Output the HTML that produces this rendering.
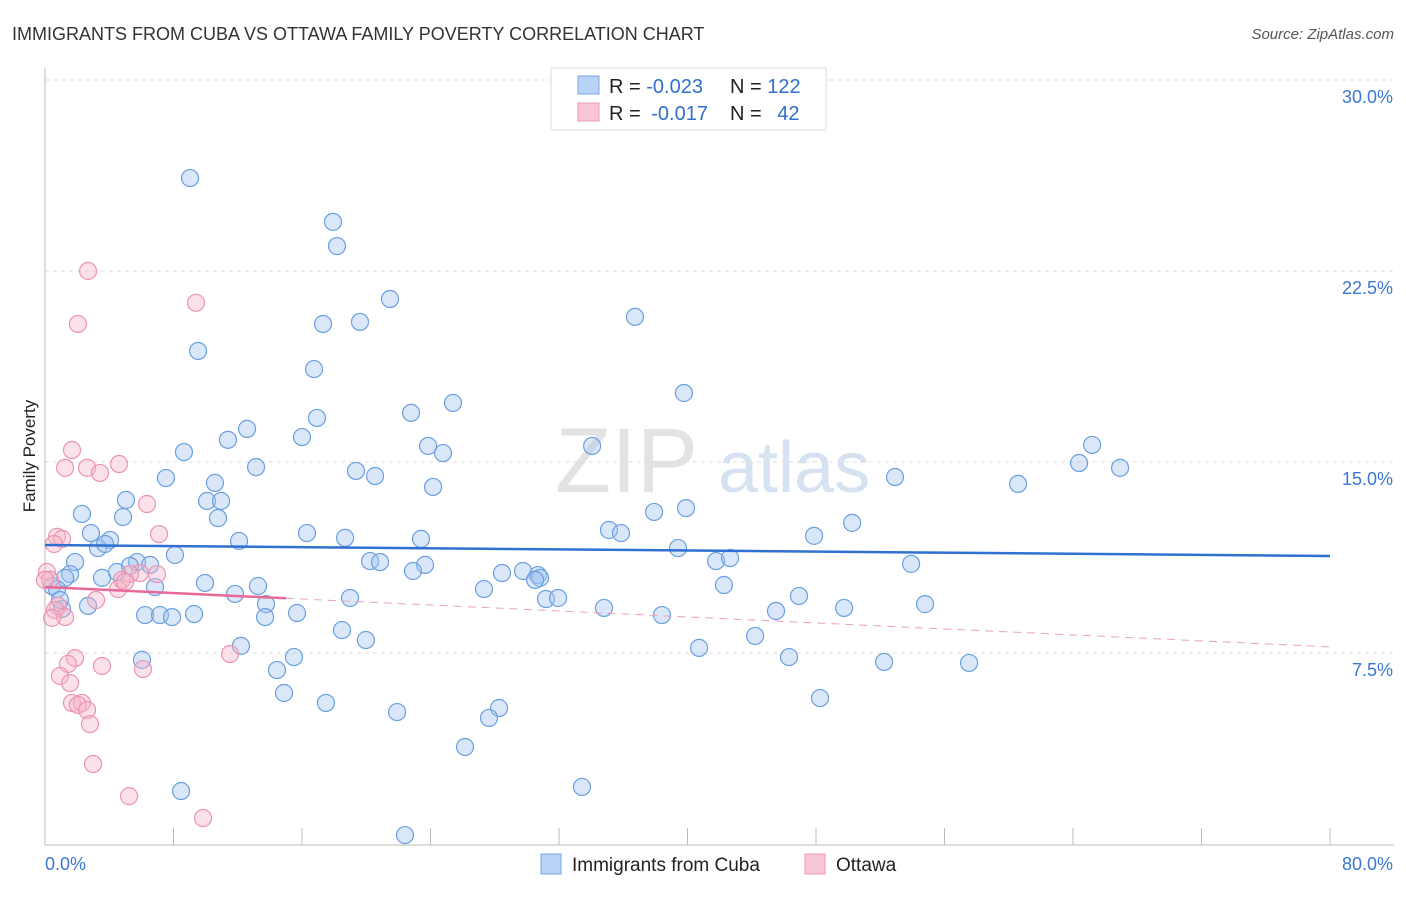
<!DOCTYPE html>
<html><head><meta charset="utf-8"><style>
body{margin:0;background:#fff;font-family:"Liberation Sans",sans-serif;}
svg text{font-family:"Liberation Sans",sans-serif;}
</style></head><body>
<svg id="chart" width="1406" height="892" xmlns="http://www.w3.org/2000/svg">
<text x="12" y="40" font-size="18" fill="#333">IMMIGRANTS FROM CUBA VS OTTAWA FAMILY POVERTY CORRELATION CHART</text>
<text x="1394" y="39" font-size="15" fill="#555" text-anchor="end" font-style="italic">Source: ZipAtlas.com</text>
<text x="35" y="456" font-size="17" fill="#222" text-anchor="middle" transform="rotate(-90 35 456)">Family Poverty</text>
<g><text x="555" y="492" font-size="92" fill="#d8d8d8" font-family="Liberation Serif" opacity="0.7">ZIP</text><text x="718" y="492" font-size="72" fill="#bcd0ea" opacity="0.6">atlas</text></g>
<g id="grid"></g><g id="axes"></g><g id="marks"></g>
<g>
<rect x="551" y="68" width="275" height="62" fill="#fff" stroke="#ddd"/>
<rect x="578" y="76" width="21" height="18" fill="#b8d3f5" stroke="#7aa7e0"/>
<rect x="578" y="103" width="21" height="18" fill="#f9c6d5" stroke="#eb9ab5"/>
<text x="609" y="93" font-size="20" fill="#222">R = <tspan fill="#2f6fd0">-0.023</tspan></text>
<text x="730" y="93" font-size="20" fill="#222">N = <tspan fill="#2f6fd0">122</tspan></text>
<text x="609" y="120" font-size="20" fill="#222">R = <tspan fill="#2f6fd0" dx="5">-0.017</tspan></text>
<text x="730" y="120" font-size="20" fill="#222">N = <tspan fill="#2f6fd0" dx="10">42</tspan></text>
</g>
<g>
<rect x="541" y="854" width="20" height="20" fill="#b8d3f5" stroke="#7aa7e0"/>
<text x="572" y="871" font-size="19" fill="#222">Immigrants from Cuba</text>
<rect x="805" y="854" width="20" height="20" fill="#f9c6d5" stroke="#eb9ab5"/>
<text x="836" y="871" font-size="19" fill="#222">Ottawa</text>
</g>
</svg>
<script>
const blueX=[9.03,17.93,18.18,21.48,17.31,19.61,36.73,9.53,16.75,39.78,25.40,22.79,16.93,12.58,11.39,16.00,8.65,23.85,24.78,34.06,65.19,64.38,66.93,13.14,19.36,20.55,7.53,10.58,52.92,60.58,24.16,5.04,10.09,10.96,2.30,4.86,10.77,37.92,39.91,50.25,2.86,35.11,16.31,35.86,18.68,23.41,12.08,47.88,4.05,3.30,3.74,39.41,8.09,5.73,5.29,20.24,20.86,41.78,42.65,53.92,1.87,6.54,4.48,1.56,1.25,23.66,22.91,28.45,29.76,30.69,30.82,30.51,3.55,9.96,13.26,27.33,6.85,42.27,0.44,0.75,11.83,18.99,31.19,31.94,46.94,54.79,49.75,45.51,13.76,2.68,1.06,0.93,34.80,6.23,7.16,7.91,9.28,13.70,15.69,38.41,18.49,44.21,19.98,12.20,40.72,15.50,6.04,46.32,52.24,57.53,14.44,14.88,17.49,48.25,28.27,27.64,21.92,26.15,8.47,33.43,22.41];
const blueY=[26.15,24.43,23.48,21.40,20.42,20.50,20.70,19.36,18.65,17.71,17.32,16.93,16.73,16.30,15.87,15.98,15.39,15.63,15.35,15.63,15.67,14.96,14.77,14.80,14.65,14.45,14.37,14.18,14.41,14.14,14.02,13.51,13.47,13.47,12.96,12.84,12.80,13.04,13.19,12.61,12.21,12.33,12.21,12.21,12.02,11.98,11.90,12.10,11.94,11.62,11.78,11.62,11.35,11.07,10.92,11.11,11.07,11.11,11.23,11.00,11.07,10.96,10.68,10.60,10.45,10.96,10.72,10.64,10.72,10.56,10.45,10.37,10.45,10.25,10.13,10.01,10.09,10.17,10.13,10.01,9.82,9.66,9.62,9.66,9.74,9.42,9.27,9.15,9.42,9.35,9.23,9.58,9.27,8.99,8.99,8.91,9.03,8.91,9.07,8.99,8.40,8.17,8.01,7.78,7.70,7.34,7.23,7.34,7.15,7.11,6.83,5.93,5.54,5.73,5.34,4.95,5.18,3.81,2.08,2.24,0.35];
const pinkX=[2.68,9.40,2.05,1.68,1.25,2.62,4.61,3.42,6.35,7.10,0.75,1.06,0.56,0.12,0.31,5.91,6.97,5.29,4.79,4.55,4.98,3.18,0.81,0.62,1.25,0.44,1.87,1.43,3.55,11.52,6.10,0.93,1.56,1.68,2.30,2.05,2.62,2.80,2.99,5.23,9.84,0.00];
const pinkY=[22.50,21.25,20.42,15.47,14.77,14.77,14.92,14.57,13.35,12.17,12.06,11.98,11.78,10.68,10.37,10.64,10.60,10.60,10.37,10.01,10.29,9.58,9.35,9.19,8.91,8.88,7.30,7.07,6.99,7.46,6.87,6.60,6.32,5.54,5.54,5.46,5.26,4.71,3.14,1.88,1.02,10.37];
const blueTrend=[11.74,11.31];
const pinkTrend=[10.09,7.74];
const pinkSolidEnd=15;
const yTicks=[7.5,15,22.5,30];
const yTickLabels=["7.5%","15.0%","22.5%","30.0%"];
const xTicks=[0,8,16,24,32,40,48,56,64,72,80];
const NS="http://www.w3.org/2000/svg";
const sx=v=>45+v/80*1285, sy=v=>844-v/7.5*191;
function mk(tag,attrs,parent){const e=document.createElementNS(NS,tag);for(const k in attrs)e.setAttribute(k,attrs[k]);document.getElementById(parent).appendChild(e);return e;}
yTicks.forEach((t,i)=>{
 const g=mk('line',{x1:45,x2:1394,y1:sy(t),y2:sy(t),stroke:'#ddd','stroke-dasharray':'4,4'},'grid');
 
 
 const l=mk('text',{x:1393,y:sy(t)+23,'font-size':18,fill:'#3a78d4','text-anchor':'end'},'axes');
 l.textContent=yTickLabels[i];
 
 
});
mk('line',{x1:45,x2:45,y1:68,y2:845,stroke:'#bbb'},'axes');
mk('line',{x1:45,x2:1394,y1:845,y2:845,stroke:'#bbb'},'axes');
xTicks.forEach(t=>{const e=mk('line',{x1:sx(t),x2:sx(t),y1:828,y2:845,stroke:'#bbb'},'axes');
 
 });
const x0=mk('text',{x:45,y:870,'font-size':18,fill:'#3a78d4'},'axes');x0.textContent='0.0%';


const x1=mk('text',{x:1393,y:870,'font-size':18,fill:'#3a78d4','text-anchor':'end'},'axes');x1.textContent='80.0%';


blueX.forEach((x,i)=>{const c=mk('circle',{cx:sx(x),cy:sy(blueY[i]),r:8.5,fill:'rgba(160,195,240,0.4)',stroke:'#6b9fe0','stroke-width':1.2},'marks');
 
 });
pinkX.forEach((x,i)=>{const c=mk('circle',{cx:sx(x),cy:sy(pinkY[i]),r:8.5,fill:'rgba(246,180,200,0.4)',stroke:'#eb94b2','stroke-width':1.2},'marks');
 
 });
const bt=mk('line',{x1:sx(0),y1:sy(blueTrend[0]),x2:sx(80),y2:sy(blueTrend[1]),stroke:'#2f70d2','stroke-width':2.5},'marks');


const pm=pinkTrend[0]+(pinkTrend[1]-pinkTrend[0])*pinkSolidEnd/80;
const pt=mk('line',{x1:sx(0),y1:sy(pinkTrend[0]),x2:sx(pinkSolidEnd),y2:sy(pm),stroke:'#e8689a','stroke-width':2.5},'marks');


const pd=mk('line',{x1:sx(pinkSolidEnd),y1:sy(pm),x2:sx(80),y2:sy(pinkTrend[1]),stroke:'#eba0bb','stroke-width':1,'stroke-dasharray':'8,6'},'marks');


</script>
</body></html>
